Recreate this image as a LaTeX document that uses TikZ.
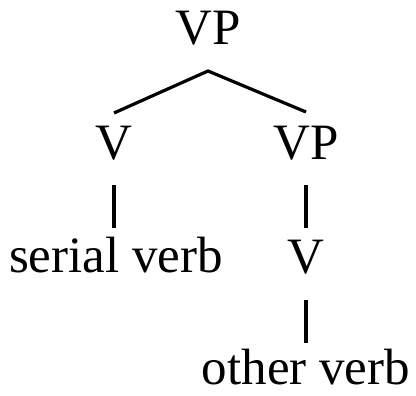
\documentclass[tikz,border=0pt]{standalone}
\usepackage{fontspec}
\setmainfont{Liberation Serif}
\begin{document}
\begin{tikzpicture}[x=1pt,y=1pt,
  lbl/.style={anchor=base,inner sep=0pt,font=\fontsize{51}{60}\selectfont},
  branch/.style={line width=3.2pt}]
  \useasboundingbox (0,0) rectangle (416,396);
  % tree labels
  \node[lbl] (vp)  at (208,351) {VP};
  \node[lbl] (v1)  at (114,236) {V};
  \node[lbl] (vp2) at (306,236) {VP};
  \node[lbl] (sv)  at (116,123) {serial verb};
  \node[lbl] (v2)  at (306,122) {V};
  \node[lbl] (ov)  at (306,11)  {other verb};
  % branches
  \coordinate (apex) at ([yshift=-26pt]vp.base);
  \draw[branch] ([yshift=47pt]v1.base) -- (apex) -- ([yshift=48pt]vp2.base);
  \draw[branch] ([yshift=-25pt]v1.base) -- ([yshift=45pt]v1.base |- sv.base);
  \draw[branch] ([yshift=-25pt]vp2.base) -- ([yshift=46pt]vp2.base |- v2.base);
  \draw[branch] ([yshift=-26pt]v2.base) -- ([yshift=42pt]v2.base |- ov.base);
\end{tikzpicture}
\end{document}
